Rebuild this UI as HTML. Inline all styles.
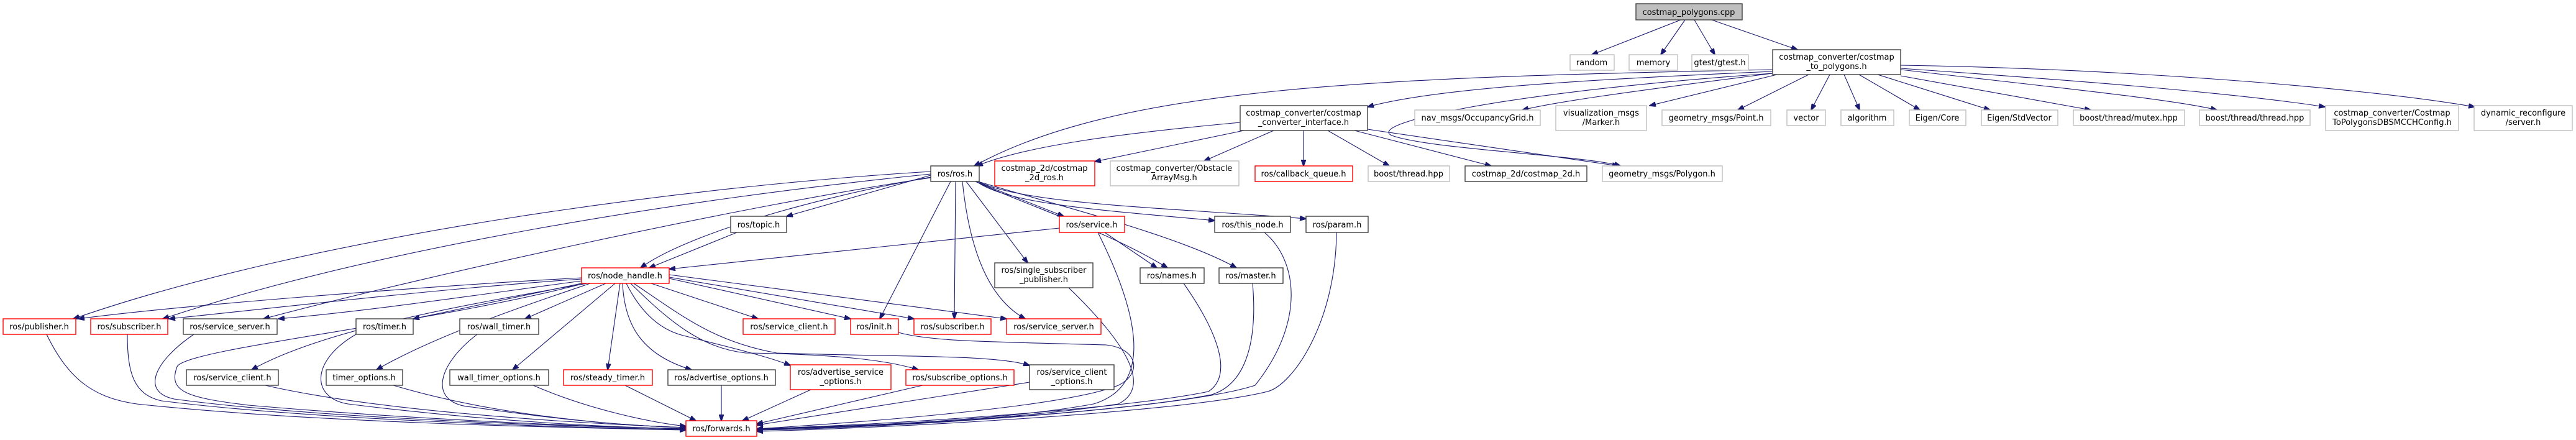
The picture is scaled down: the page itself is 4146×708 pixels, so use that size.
<!DOCTYPE html>
<html><head><meta charset="utf-8"><style>
html,body{margin:0;padding:0;background:#fff;}
svg{display:block;}
text{font-family:"DejaVu Sans","Liberation Sans",sans-serif;font-size:13px;fill:#000;text-anchor:middle;}
.k{fill:#fff;stroke:#404040;stroke-width:1.4;}
.g{fill:#fff;stroke:#bfbfbf;stroke-width:1.4;}
.r{fill:#fff;stroke:#ff0000;stroke-width:1.4;}
.e path{fill:none;stroke:#191970;stroke-width:1.1;marker-end:url(#a);}
</style></head><body>
<svg width="4146" height="708" viewBox="0 0 4146 708" xmlns="http://www.w3.org/2000/svg">
<defs><marker id="a" markerWidth="11" markerHeight="8" refX="10" refY="4" orient="auto" markerUnits="userSpaceOnUse"><path d="M0,0 L11,4 L0,8 z" fill="#191970" stroke="#191970"/></marker></defs>
<g class="e">
<path d="M2705,32 L2562,88"/>
<path d="M2712,32 L2673,88"/>
<path d="M2727,32 L2760,88"/>
<path d="M2755,32 L2893,80"/>
<path d="M2945,120 L2915,177"/>
<path d="M2968,120 L2993,177"/>
<path d="M2992,120 L3090,177"/>
<path d="M3022,120 L3203,177"/>
<path d="M3059,122 L3365,177"/>
<path d="M3059,112 C3300,140 3500,160 3568,177"/>
<path d="M3059,110 C3350,130 3600,150 3742,172"/>
<path d="M3059,105 C3400,110 3800,140 3983,172"/>
<path d="M2911,120 L2797,177"/>
<path d="M2853,118 C2400,150 2200,200 2240,218 C2300,240 2550,250 2608,267"/>
<path d="M2853,118 C2600,150 2500,165 2450,177"/>
<path d="M2860,120 L2655,170"/>
<path d="M2853,115 C2500,130 2300,145 2201,172"/>
<path d="M2853,112 C2200,125 1800,140 1568,267"/>
<path d="M1996,197 C1800,215 1650,235 1572,267"/>
<path d="M2002,210 L1762,260"/>
<path d="M2050,210 L1938,259"/>
<path d="M2098,210 L2098,267"/>
<path d="M2137,210 L2236,267"/>
<path d="M2180,210 L2400,267"/>
<path d="M2201,208 L2605,267"/>
<path d="M1498,282 L1266,348"/>
<path d="M1498,285 C1300,320 1100,380 1031,431"/>
<path d="M1498,276 C1100,300 500,380 118,513"/>
<path d="M1498,280 C1100,320 600,400 262,513"/>
<path d="M1498,286 C1200,330 700,440 424,513"/>
<path d="M1570,292 L1712,348"/>
<path d="M1572,292 C1620,330 1800,340 1955,355"/>
<path d="M1574,292 C1650,330 1900,335 2102,352"/>
<path d="M1570,292 C1650,330 1780,370 1879,431"/>
<path d="M1574,292 C1700,330 1900,380 1990,431"/>
<path d="M1555,292 L1654,423"/>
<path d="M1530,292 L1416,513"/>
<path d="M1538,292 L1536,513"/>
<path d="M1549,292 C1560,400 1590,480 1650,513"/>
<path d="M1186,374 L1045,431"/>
<path d="M1705,367 L1077,433"/>
<path d="M1778,374 L1862,431"/>
<path d="M1767,374 C1830,500 1860,620 1760,650 C1600,680 1300,688 1218,690"/>
<path d="M936,447 C700,460 300,490 126,513"/>
<path d="M936,449 C700,465 450,495 272,513"/>
<path d="M936,452 C800,470 600,500 448,513"/>
<path d="M945,456 C750,490 520,530 405,595"/>
<path d="M936,456 L665,513"/>
<path d="M950,456 C850,490 700,540 606,595"/>
<path d="M975,456 L845,513"/>
<path d="M990,456 L825,595"/>
<path d="M998,456 L978,595"/>
<path d="M1002,456 C1005,520 1030,570 1113,595"/>
<path d="M1008,456 C1040,520 1080,535 1100,540 C1180,560 1240,575 1272,588"/>
<path d="M1015,456 C1080,520 1130,560 1200,568 C1350,570 1430,580 1478,595"/>
<path d="M1020,456 C1100,510 1150,550 1250,568 C1450,575 1600,570 1657,588"/>
<path d="M1048,456 L1220,513"/>
<path d="M1077,448 L1369,513"/>
<path d="M1077,446 L1471,513"/>
<path d="M1077,442 L1620,513"/>
<path d="M940,456 C700,520 300,560 285,590 C270,630 300,640 400,652 C700,678 1000,688 1104,690"/>
<path d="M75,538 C110,610 150,640 220,650 C500,680 900,688 1104,692"/>
<path d="M205,538 C205,600 215,635 260,645 C500,675 900,688 1104,691"/>
<path d="M312,538 C250,580 225,630 280,642 C500,672 900,686 1104,690"/>
<path d="M427,620 C600,660 900,680 1104,688"/>
<path d="M573,538 C500,580 500,640 560,650 C800,680 1000,688 1104,690"/>
<path d="M633,620 C800,670 1000,685 1104,688"/>
<path d="M768,538 C700,590 690,650 760,655 C900,675 1000,685 1104,688"/>
<path d="M858,620 C950,660 1050,680 1104,686"/>
<path d="M1006,620 L1120,677"/>
<path d="M1161,620 L1161,677"/>
<path d="M1305,627 L1195,677"/>
<path d="M1485,620 L1218,682"/>
<path d="M1657,615 L1218,684"/>
<path d="M1446,535 C1500,550 1600,550 1780,555 C1830,560 1840,600 1800,620 C1700,660 1300,685 1218,690"/>
<path d="M1720,463 C1800,540 1860,620 1800,650 C1600,680 1300,690 1218,690"/>
<path d="M1905,456 C1950,520 1990,600 1945,630 C1800,660 1400,685 1218,690"/>
<path d="M2016,456 C2025,560 2000,620 1950,635 C1800,665 1400,688 1218,691"/>
<path d="M2035,374 C2090,420 2100,520 2020,620 C1900,660 1400,690 1218,692"/>
<path d="M2151,374 C2150,520 2080,620 2040,630 C1900,665 1400,690 1218,694"/>
</g>
<!-- nodes -->
<rect x="2633" y="6" width="171" height="26" fill="#bfbfbf" stroke="#404040" stroke-width="1.4"/><text x="2718" y="24">costmap_polygons.cpp</text>
<rect class="g" x="2527" y="88" width="71" height="25"/><text x="2562" y="105">random</text>
<rect class="g" x="2622" y="88" width="78" height="25"/><text x="2661" y="105">memory</text>
<rect class="g" x="2723" y="88" width="91" height="25"/><text x="2768" y="105">gtest/gtest.h</text>
<rect class="k" x="2853" y="80" width="206" height="40"/><text x="2956" y="96">costmap_converter/costmap</text><text x="2956" y="111">_to_polygons.h</text>
<rect class="k" x="1996" y="170" width="205" height="40"/><text x="2098" y="186">costmap_converter/costmap</text><text x="2098" y="201">_converter_interface.h</text>
<rect class="g" x="2277" y="177" width="202" height="25"/><text x="2378" y="194">nav_msgs/OccupancyGrid.h</text>
<rect class="g" x="2504" y="170" width="146" height="40"/><text x="2577" y="186">visualization_msgs</text><text x="2577" y="201">/Marker.h</text>
<rect class="g" x="2675" y="177" width="175" height="25"/><text x="2762" y="194">geometry_msgs/Point.h</text>
<rect class="g" x="2876" y="177" width="62" height="25"/><text x="2907" y="194">vector</text>
<rect class="g" x="2963" y="177" width="85" height="25"/><text x="3005" y="194">algorithm</text>
<rect class="g" x="3073" y="177" width="91" height="25"/><text x="3118" y="194">Eigen/Core</text>
<rect class="g" x="3189" y="177" width="123" height="25"/><text x="3250" y="194">Eigen/StdVector</text>
<rect class="g" x="3337" y="177" width="179" height="25"/><text x="3426" y="194">boost/thread/mutex.hpp</text>
<rect class="g" x="3540" y="177" width="178" height="25"/><text x="3629" y="194">boost/thread/thread.hpp</text>
<rect class="g" x="3743" y="170" width="214" height="40"/><text x="3850" y="186">costmap_converter/Costmap</text><text x="3850" y="201">ToPolygonsDBSMCCHConfig.h</text>
<rect class="g" x="3982" y="170" width="158" height="40"/><text x="4061" y="186">dynamic_reconfigure</text><text x="4061" y="201">/server.h</text>
<rect class="k" x="1498" y="267" width="78" height="25"/><text x="1537" y="284">ros/ros.h</text>
<rect class="r" x="1601" y="259" width="161" height="40"/><text x="1681" y="275">costmap_2d/costmap</text><text x="1681" y="290">_2d_ros.h</text>
<rect class="g" x="1787" y="259" width="207" height="40"/><text x="1890" y="275">costmap_converter/Obstacle</text><text x="1890" y="290">ArrayMsg.h</text>
<rect class="r" x="2020" y="267" width="157" height="25"/><text x="2098" y="284">ros/callback_queue.h</text>
<rect class="g" x="2202" y="267" width="131" height="25"/><text x="2267" y="284">boost/thread.hpp</text>
<rect class="k" x="2358" y="267" width="196" height="25"/><text x="2456" y="284">costmap_2d/costmap_2d.h</text>
<rect class="g" x="2579" y="267" width="193" height="25"/><text x="2675" y="284">geometry_msgs/Polygon.h</text>
<rect class="k" x="1176" y="348" width="90" height="26"/><text x="1221" y="366">ros/topic.h</text>
<rect class="r" x="1705" y="348" width="105" height="26"/><text x="1757" y="366">ros/service.h</text>
<rect class="k" x="1955" y="348" width="122" height="26"/><text x="2016" y="366">ros/this_node.h</text>
<rect class="k" x="2102" y="348" width="100" height="26"/><text x="2152" y="366">ros/param.h</text>
<rect class="r" x="936" y="431" width="141" height="25"/><text x="1006" y="448">ros/node_handle.h</text>
<rect class="k" x="1601" y="423" width="158" height="40"/><text x="1680" y="439">ros/single_subscriber</text><text x="1680" y="454">_publisher.h</text>
<rect class="k" x="1835" y="431" width="103" height="25"/><text x="1886" y="448">ros/names.h</text>
<rect class="k" x="1962" y="431" width="103" height="25"/><text x="2013" y="448">ros/master.h</text>
<rect class="r" x="5" y="513" width="117" height="25"/><text x="63" y="530">ros/publisher.h</text>
<rect class="r" x="146" y="513" width="124" height="25"/><text x="208" y="530">ros/subscriber.h</text>
<rect class="k" x="295" y="513" width="151" height="25"/><text x="370" y="530">ros/service_server.h</text>
<rect class="k" x="573" y="513" width="92" height="25"/><text x="619" y="530">ros/timer.h</text>
<rect class="k" x="740" y="513" width="127" height="25"/><text x="803" y="530">ros/wall_timer.h</text>
<rect class="r" x="1196" y="513" width="148" height="25"/><text x="1270" y="530">ros/service_client.h</text>
<rect class="r" x="1369" y="513" width="77" height="25"/><text x="1407" y="530">ros/init.h</text>
<rect class="r" x="1471" y="513" width="124" height="25"/><text x="1533" y="530">ros/subscriber.h</text>
<rect class="r" x="1620" y="513" width="152" height="25"/><text x="1696" y="530">ros/service_server.h</text>
<rect class="k" x="300" y="595" width="148" height="25"/><text x="374" y="612">ros/service_client.h</text>
<rect class="k" x="525" y="595" width="123" height="25"/><text x="586" y="612">timer_options.h</text>
<rect class="k" x="724" y="595" width="159" height="25"/><text x="803" y="612">wall_timer_options.h</text>
<rect class="r" x="907" y="595" width="143" height="25"/><text x="978" y="612">ros/steady_timer.h</text>
<rect class="k" x="1075" y="595" width="173" height="25"/><text x="1161" y="612">ros/advertise_options.h</text>
<rect class="r" x="1272" y="587" width="162" height="40"/><text x="1353" y="603">ros/advertise_service</text><text x="1353" y="618">_options.h</text>
<rect class="r" x="1458" y="595" width="174" height="25"/><text x="1545" y="612">ros/subscribe_options.h</text>
<rect class="k" x="1657" y="587" width="136" height="40"/><text x="1725" y="603">ros/service_client</text><text x="1725" y="618">_options.h</text>
<rect class="r" x="1104" y="677" width="114" height="25"/><text x="1161" y="694">ros/forwards.h</text>
</svg>
</body></html>
